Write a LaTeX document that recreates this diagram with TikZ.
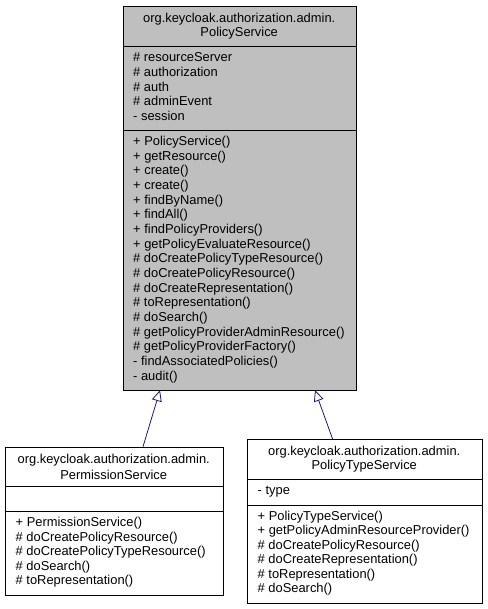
\documentclass[tikz,border=0pt]{standalone}
\usepackage{fontspec}
\setmainfont{Liberation Sans}
\usetikzlibrary{arrows.meta}
\definecolor{psgray}{HTML}{BFBFBF}
\definecolor{edgeblue}{HTML}{191970}
\begin{document}
\begin{tikzpicture}[x=1pt,y=-1pt,
  classbox/.style={draw=black, line width=0.9pt, anchor=north west, inner sep=0pt},
  sep/.style={draw=black, line width=0.9pt},
  member/.style={anchor=west, inner sep=0pt, font=\fontsize{12.9}{14}\selectfont},
  title/.style={anchor=center, inner sep=0pt, align=center, font=\fontsize{12.9}{14.4}\selectfont},
  inherit/.style={draw=edgeblue, line width=0.8pt, -{Triangle[open, fill=white, length=11pt, width=10pt]}}
]
\useasboundingbox (0,0) rectangle (487,609);

% ---------- PolicyService ----------
\node[classbox, fill=psgray, minimum width=233pt, minimum height=384.5pt] (ps) at (122.7,5.7) {};
\draw[sep] (122.7,46) -- (355.7,46);
\draw[sep] (122.7,130) -- (355.7,130);
\node[title] (pst1) at (239.2,19) {org.keycloak.authorization.admin.};
\node[title] (pst2) at (239.2,33.5) {PolicyService};
\foreach \t [count=\i] in {\# resourceServer, \# authorization, \# auth, \# adminEvent, - session}
  \node[member] (psa\i) at (133,{57.5+(\i-1)*14.6}) {\t};
\foreach \t [count=\i] in {+ PolicyService(), + getResource(), + create(), + create(), + findByName(), + findAll(), + findPolicyProviders(), + getPolicyEvaluateResource(), \# doCreatePolicyTypeResource(), \# doCreatePolicyResource(), \# doCreateRepresentation(), \# toRepresentation(), \# doSearch(), \# getPolicyProviderAdminResource(), \# getPolicyProviderFactory(), - findAssociatedPolicies(), - audit()}
  \node[member] (psm\i) at (133,{142+(\i-1)*14.68}) {\t};

% ---------- PermissionService ----------
\node[classbox, fill=white, minimum width=218pt, minimum height=148.3pt] (perm) at (4.7,446.7) {};
\draw[sep] (4.7,486.7) -- (222.7,486.7);
\draw[sep] (4.7,511.7) -- (222.7,511.7);
\node[title] (permt1) at (113.7,460) {org.keycloak.authorization.admin.};
\node[title] (permt2) at (113.7,474.5) {PermissionService};
\foreach \t [count=\i] in {+ PermissionService(), \# doCreatePolicyResource(), \# doCreatePolicyTypeResource(), \# doSearch(), \# toRepresentation()}
  \node[member] (permm\i) at (15.5,{523.5+(\i-1)*14.5}) {\t};

% ---------- PolicyTypeService ----------
\node[classbox, fill=white, minimum width=235pt, minimum height=164pt] (pts) at (246.7,439.3) {};
\draw[sep] (246.7,479) -- (481.7,479);
\draw[sep] (246.7,505) -- (481.7,505);
\node[title] (ptst1) at (364.2,452) {org.keycloak.authorization.admin.};
\node[title] (ptst2) at (364.2,466.5) {PolicyTypeService};
\node[member] (ptsa1) at (257.5,491.5) {- type};
\foreach \t [count=\i] in {+ PolicyTypeService(), + getPolicyAdminResourceProvider(), \# doCreatePolicyResource(), \# doCreateRepresentation(), \# toRepresentation(), \# doSearch()}
  \node[member] (ptsm\i) at (257.5,{517+(\i-1)*14.5}) {\t};

% ---------- inheritance ----------
\coordinate (permtop) at (143,446.7);
\coordinate (pshitL) at (160,390.2);
\coordinate (ptstop) at (332.7,439.3);
\coordinate (pshitR) at (315,390.2);
\draw[inherit] (permtop) -- (pshitL);
\draw[inherit] (ptstop) -- (pshitR);
\end{tikzpicture}
\end{document}
